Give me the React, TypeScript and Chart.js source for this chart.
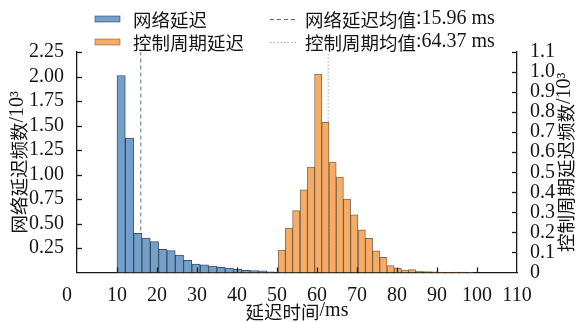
import React, { useEffect, useRef } from 'react';
import { Chart, registerables } from 'chart.js';

Chart.register(...registerables);

// ---- data (counts in units of 10^3) ----
const networkBinCenters = [11.04, 13.12, 15.2, 17.28, 19.36, 21.44, 23.52, 25.6, 27.68, 29.76, 31.84, 33.92, 36.0, 38.08, 40.16, 42.24, 44.32, 46.4, 48.48];
const networkCounts = [2.01, 1.372, 0.4, 0.35, 0.315, 0.237, 0.223, 0.179, 0.125, 0.087, 0.077, 0.066, 0.053, 0.046, 0.036, 0.022, 0.02, 0.018, 0.008];

const controlBinCenters = [51.2, 53.0, 54.8, 56.7, 58.5, 60.3, 62.1, 63.9, 65.7, 67.5, 69.3, 71.2, 73.0, 74.8, 76.6, 78.4, 80.2, 82.0, 83.8, 85.6, 87.5, 89.3, 91.1, 92.9, 94.7, 96.5, 98.3];
const controlCounts = [0.112, 0.221, 0.309, 0.413, 0.526, 0.99, 0.749, 0.551, 0.476, 0.366, 0.288, 0.213, 0.171, 0.108, 0.076, 0.034, 0.021, 0.012, 0.014, 0.006, 0.004, 0.003, 0.002, 0.001, 0.002, 0.002, 0.001];

const networkMeanLineX = 15.96;
const controlMeanLineX = 62.8;

const seriesLabels = ['网络延迟', '控制周期延迟'];
const meanLabels = ['网络延迟均值:15.96 ms', '控制周期均值:64.37 ms'];
const xTitle = '延迟时间/ms';
const yLeftTitle = '网络延迟频数/10³';
const yRightTitle = '控制周期延迟频数/10³';

const LATIN = '"Liberation Serif", "Times New Roman", serif';
const CJK = '"Noto Sans CJK SC", sans-serif';
const LATIN_SIZE = 20;
const CJK_SIZE = 18.5;
const BLUE = '#72a0ca';
const BLUE_EDGE = 'rgba(35,50,70,0.85)';
const ORANGE = '#f8ab62';
const ORANGE_EDGE = 'rgba(90,60,35,0.75)';
const BLUE_MEAN = '#4f7190';
const ORANGE_MEAN = '#a8a8a8';
const AXIS = '#1a1a1a';
const TEXT = '#151515';

const isCJK = (c: string) => /[\u3000-\u9fff\uff00-\uffef]/.test(c);

function splitRuns(text: string) {
  const runs: { t: string; cjk: boolean }[] = [];
  for (const ch of Array.from(text)) {
    const c = isCJK(ch);
    if (runs.length && runs[runs.length - 1].cjk === c) runs[runs.length - 1].t += ch;
    else runs.push({ t: ch, cjk: c });
  }
  return runs;
}

function drawMixed(ctx: CanvasRenderingContext2D, text: string, x: number, y: number, align: 'left' | 'center') {
  const runs = splitRuns(text);
  const fontOf = (cjk: boolean) => (cjk ? `${CJK_SIZE}px ${CJK}` : `${LATIN_SIZE}px ${LATIN}`);
  let total = 0;
  const widths = runs.map((r) => {
    ctx.font = fontOf(r.cjk);
    const w = ctx.measureText(r.t).width;
    total += w;
    return w;
  });
  let cx = align === 'center' ? x - total / 2 : x;
  ctx.textAlign = 'left';
  ctx.textBaseline = 'middle';
  runs.forEach((r, i) => {
    ctx.font = fontOf(r.cjk);
    ctx.fillText(r.t, cx, r.cjk ? y + 1 : y);
    cx += widths[i];
  });
}

const inwardTicks = {
  id: 'inwardTicks',
  afterDatasetsDraw(chart: any) {
    const { ctx, chartArea: a, scales } = chart;
    ctx.save();
    ctx.strokeStyle = AXIS;
    ctx.lineWidth = 1.3;
    const L = 5;
    const line = (x1: number, y1: number, x2: number, y2: number) => {
      ctx.beginPath();
      ctx.moveTo(x1, y1);
      ctx.lineTo(x2, y2);
      ctx.stroke();
    };
    scales.x.ticks.forEach((t: any) => {
      if (t.value <= 0 || t.value >= 110) return;
      const px = Math.round(scales.x.getPixelForValue(t.value)) + 0.5;
      line(px, a.bottom, px, a.bottom - L);
    });
    scales.y.ticks.forEach((t: any) => {
      if (t.value <= 0) return;
      const py = Math.round(scales.y.getPixelForValue(t.value)) + 0.5;
      line(a.left, py, a.left + L, py);
    });
    scales.y2.ticks.forEach((t: any) => {
      if (t.value <= 0) return;
      const py = Math.round(scales.y2.getPixelForValue(t.value)) + 0.5;
      line(a.right, py, a.right - L, py);
    });
    ctx.restore();
  },
};

const customText = {
  id: 'customText',
  afterDraw(chart: any) {
    const { ctx, chartArea: a } = chart;
    ctx.save();
    ctx.fillStyle = TEXT;

    // legend
    const rows = [19, 42];
    const boxFill = [BLUE, ORANGE];
    const boxEdge = [BLUE_EDGE, ORANGE_EDGE];
    rows.forEach((y, i) => {
      ctx.fillStyle = boxFill[i];
      ctx.fillRect(95, y - 3, 25, 6);
      ctx.strokeStyle = boxEdge[i];
      ctx.lineWidth = 0.6;
      ctx.strokeRect(95, y - 3, 25, 6);
      ctx.fillStyle = TEXT;
      drawMixed(ctx, seriesLabels[i], 133, y, 'left');
    });
    rows.forEach((y, i) => {
      ctx.strokeStyle = i === 0 ? BLUE_MEAN : ORANGE_MEAN;
      ctx.lineWidth = 1;
      ctx.setLineDash(i === 0 ? [4, 3] : [1.5, 2]);
      ctx.beginPath();
      ctx.moveTo(270, y + 0.5);
      ctx.lineTo(296, y + 0.5);
      ctx.stroke();
      ctx.setLineDash([]);
      ctx.fillStyle = TEXT;
      drawMixed(ctx, meanLabels[i], 305, y, 'left');
    });

    // axis titles
    const cy = (a.top + a.bottom) / 2;
    ctx.save();
    ctx.translate(18, cy);
    ctx.rotate(-Math.PI / 2);
    drawMixed(ctx, yLeftTitle, 0, 0, 'center');
    ctx.restore();
    ctx.save();
    ctx.translate(565, cy);
    ctx.rotate(-Math.PI / 2);
    drawMixed(ctx, yRightTitle, 0, 0, 'center');
    ctx.restore();
    drawMixed(ctx, xTitle, (a.left + a.right) / 2, 311, 'center');
    ctx.restore();
  },
};

export default function App() {
  const ref = useRef<HTMLCanvasElement | null>(null);
  useEffect(() => {
    if (!ref.current) return;
    const tickFont = { family: LATIN, size: LATIN_SIZE };
    const chart = new Chart(ref.current, {
      type: 'bar',
      data: {
        datasets: [
          {
            type: 'bar',
            label: seriesLabels[0],
            data: networkBinCenters.map((x, i) => ({ x, y: networkCounts[i] })),
            xAxisID: 'x',
            yAxisID: 'y',
            backgroundColor: BLUE,
            borderColor: BLUE_EDGE,
            borderWidth: 1,
            grouped: false,
            barThickness: 8.32,
            order: 1,
          } as any,
          {
            type: 'bar',
            label: seriesLabels[1],
            data: controlBinCenters.map((x, i) => ({ x, y: controlCounts[i] })),
            xAxisID: 'x2',
            yAxisID: 'y2',
            backgroundColor: ORANGE,
            borderColor: ORANGE_EDGE,
            borderWidth: 1,
            grouped: false,
            barThickness: 7.24,
            order: 1,
          } as any,
          {
            type: 'line',
            label: meanLabels[0],
            data: [
              { x: networkMeanLineX, y: 0 },
              { x: networkMeanLineX, y: 2.25 },
            ],
            xAxisID: 'x',
            yAxisID: 'y',
            borderColor: BLUE_MEAN,
            borderWidth: 1,
            borderDash: [4, 3],
            pointRadius: 0,
            order: 10,
          } as any,
          {
            type: 'line',
            label: meanLabels[1],
            data: [
              { x: controlMeanLineX, y: 0 },
              { x: controlMeanLineX, y: 1.1 },
            ],
            xAxisID: 'x2',
            yAxisID: 'y2',
            borderColor: ORANGE_MEAN,
            borderWidth: 1,
            borderDash: [1.5, 2],
            pointRadius: 0,
            order: 10,
          } as any,
        ],
      },
      options: {
        responsive: false,
        animation: false,
        layout: { padding: { top: 52, left: 0, right: 0, bottom: 0 } },
        plugins: { legend: { display: false }, tooltip: { enabled: false } },
        scales: {
          x: {
            type: 'linear',
            position: 'bottom',
            min: 0,
            max: 110,
            offset: false,
            grid: { display: false, offset: false },
            border: { display: true, color: AXIS, width: 1.3 },
            ticks: {
              stepSize: 10,
              autoSkip: false,
              maxRotation: 0,
              padding: 3,
              color: TEXT,
              font: tickFont,
              callback: (v: any) => (v === 0 ? '0    ' : String(v)),
            },
            afterFit: (s: any) => {
              s.height = 49.5;
            },
          },
          x2: {
            type: 'linear',
            display: false,
            min: 0,
            max: 110,
            offset: false,
            grid: { offset: false },
          },
          y: {
            type: 'linear',
            position: 'left',
            min: 0,
            max: 2.25,
            grid: { display: false },
            border: { display: true, color: AXIS, width: 1.3 },
            ticks: {
              stepSize: 0.25,
              autoSkip: false,
              padding: 5,
              color: TEXT,
              font: tickFont,
              callback: (v: any) => (Math.abs(v) < 1e-9 ? '' : Number(v).toFixed(2)),
            },
            afterFit: (s: any) => {
              s.width = 77;
            },
          },
          y2: {
            type: 'linear',
            position: 'right',
            min: 0,
            max: 1.1,
            grid: { display: false },
            border: { display: true, color: AXIS, width: 1.3 },
            ticks: {
              stepSize: 0.1,
              autoSkip: false,
              padding: 5,
              color: TEXT,
              font: tickFont,
              callback: (v: any) => (Math.abs(v) < 1e-9 ? '0' : Number(v).toFixed(1)),
            },
            afterFit: (s: any) => {
              s.width = 59;
            },
          },
        },
      } as any,
      plugins: [inwardTicks, customText],
    });
    return () => chart.destroy();
  }, []);

  return (
    <div style={{ position: 'absolute', left: 0, top: 0, width: 576, height: 322, background: '#fff' }}>
      <canvas ref={ref} width={576} height={322} style={{ display: 'block' }} />
    </div>
  );
}
